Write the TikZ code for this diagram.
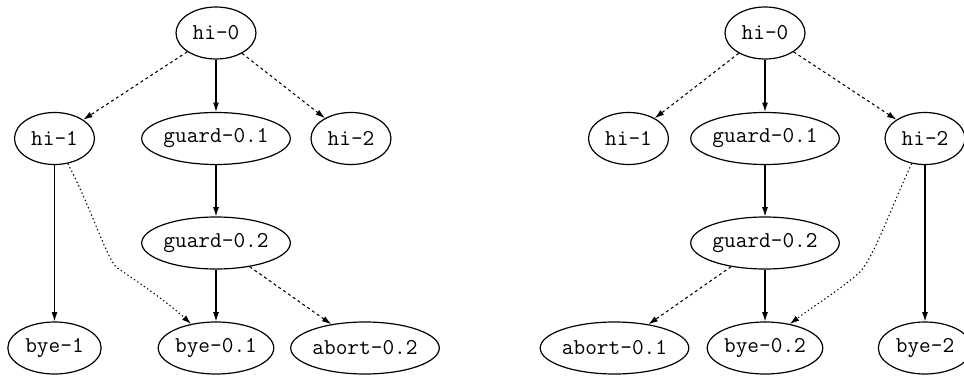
\documentclass[tikz,border=0pt]{standalone}
\usetikzlibrary{shapes.geometric,arrows.meta}
\begin{document}
\begin{tikzpicture}[x=0.75pt,y=-0.75pt,
  st/.style={draw,ellipse,line width=0.9pt,inner sep=0pt,minimum height=39pt,
     font=\fontsize{17}{17}\selectfont\ttfamily},
  w4/.style={st,minimum width=60pt},
  w5/.style={st,minimum width=70pt},
  w7/.style={st,minimum width=86pt},
  w9/.style={st,minimum width=105pt},
  wa/.style={st,minimum width=100pt},
  arr/.style={line width=0.8pt,-{Latex[length=7pt,width=4.5pt]}},
  dsh/.style={arr,dash pattern=on 2.2pt off 2.2pt},
  dot/.style={arr,line width=0.8pt,dash pattern=on 1pt off 2pt}]
\useasboundingbox (0,0) rectangle (964,375);
% left graph
\node[w4] (Lhi0) at (216,33) {hi-0};
\node[w4] (Lhi1) at (54.5,138.5) {hi-1};
\node[w9] (Lg1) at (216,138.5) {guard-0.1};
\node[w4] (Lhi2) at (351,138.5) {hi-2};
\node[w9] (Lg2) at (216,243) {guard-0.2};
\node[w5] (Lbye1) at (54.5,348) {bye-1};
\node[w7] (Lbye01) at (216,348) {bye-0.1};
\node[wa] (Labort) at (365,348) {abort-0.2};
\draw[dsh] (Lhi0) -- (Lhi1);
\draw[arr] (Lhi0) -- (Lg1);
\draw[dsh] (Lhi0) -- (Lhi2);
\draw[arr] (Lg1) -- (Lg2);
\draw[arr] (Lg2) -- (Lbye01);
\draw[dsh] (Lg2) -- (Labort);
\draw[arr] (Lhi1) -- (Lbye1);
\coordinate (Lk) at (116,267);
\draw[dot] (Lhi1.-62) .. controls (92,210) and (104,252) .. (Lk) .. controls (135,280) and (165,300) .. (Lbye01.136);
% right graph
\node[w4] (Rhi0) at (765,33) {hi-0};
\node[w4] (Rhi1) at (628.5,138.5) {hi-1};
\node[w9] (Rg1) at (765,138.5) {guard-0.1};
\node[w4] (Rhi2) at (925,138.5) {hi-2};
\node[w9] (Rg2) at (765,243) {guard-0.2};
\node[wa] (Rabort) at (614.5,348) {abort-0.1};
\node[w7] (Rbye02) at (765,348) {bye-0.2};
\node[w5] (Rbye2) at (925,348) {bye-2};
\draw[dsh] (Rhi0) -- (Rhi1);
\draw[arr] (Rhi0) -- (Rg1);
\draw[dsh] (Rhi0) -- (Rhi2);
\draw[arr] (Rg1) -- (Rg2);
\draw[arr] (Rg2) -- (Rbye02);
\draw[dsh] (Rg2) -- (Rabort);
\draw[arr] (Rhi2) -- (Rbye2);
\coordinate (Rk) at (860,272);
\draw[dot] (Rhi2.-118) .. controls (890,210) and (875,255) .. (Rk) .. controls (840,290) and (815,305) .. (Rbye02.44);
\end{tikzpicture}
\end{document}
